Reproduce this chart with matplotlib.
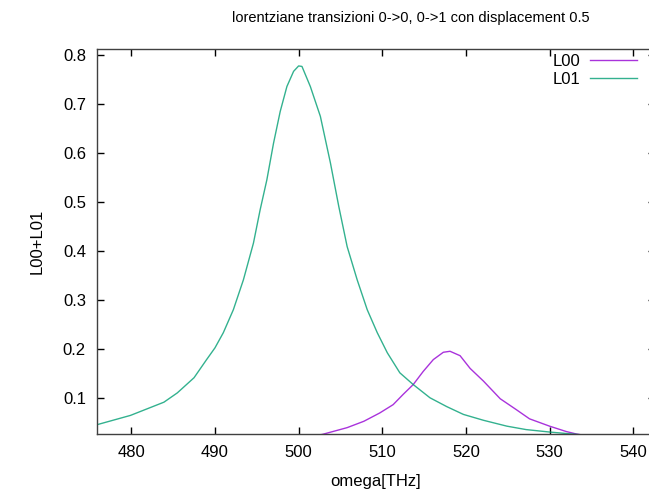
import numpy as np
import matplotlib
matplotlib.use("Agg")
import matplotlib.pyplot as plt

# ---- data ----
omega_l01 = [475.9, 479.9, 483.9, 485.5, 487.5, 489.0, 490.0, 491.0, 492.2,
             493.4, 494.6, 495.4, 496.2, 497.0, 497.8, 498.6, 499.4, 500.0,
             500.4, 501.4, 502.6, 503.8, 504.8, 505.8, 507.0, 508.2, 509.4,
             510.6, 512.1, 513.7, 515.7, 517.7, 519.7, 522.1, 524.9, 527.2,
             530.0, 532.0, 534.0, 536.0, 540.0, 542.6]
l01 = [0.045, 0.064, 0.091, 0.110, 0.141, 0.178, 0.202, 0.233, 0.280,
       0.341, 0.416, 0.484, 0.545, 0.620, 0.685, 0.736, 0.767, 0.778,
       0.777, 0.736, 0.675, 0.580, 0.491, 0.409, 0.341, 0.280, 0.233,
       0.192, 0.151, 0.127, 0.100, 0.082, 0.066, 0.054, 0.042, 0.035,
       0.030, 0.027, 0.024, 0.021, 0.017, 0.015]

omega_l00 = [476.0, 485.0, 495.0, 500.0, 502.8, 505.8, 507.8, 509.7, 511.3,
             512.5, 513.7, 514.9, 516.1, 517.3, 518.1, 519.3, 520.5, 522.1,
             524.1, 526.0, 527.6, 530.0, 532.0, 533.2, 536.0, 540.0, 542.6]
l00 = [0.004, 0.006, 0.012, 0.018, 0.025, 0.039, 0.052, 0.069, 0.086,
       0.107, 0.127, 0.154, 0.178, 0.193, 0.195, 0.186, 0.160, 0.134,
       0.098, 0.076, 0.057, 0.042, 0.031, 0.026, 0.018, 0.012, 0.010]

xticks = [480, 490, 500, 510, 520, 530, 540]
yticks = [0.1, 0.2, 0.3, 0.4, 0.5, 0.6, 0.7, 0.8]

plt.rcParams['font.family'] = ['Liberation Sans', 'DejaVu Sans']

W, H = 649, 495
fig = plt.figure(figsize=(W / 100, H / 100), dpi=100)
# plot box: left 97px, bottom 434px, top 49px, right beyond the crop (~655px)
ax = fig.add_axes([97 / W, (H - 434) / H, (655 - 97) / W, (434 - 49.3) / H])

ax.plot(omega_l00, l00, color='#9400d3', lw=1.0, alpha=0.8, label='L00')
ax.plot(omega_l01, l01, color='#009e73', lw=1.0, alpha=0.8, label='L01')

ax.set_xlim(475.9, 542.6)
ax.set_ylim(0.026, 0.812)
ax.set_xticks(xticks)
ax.set_yticks(yticks)
ax.set_yticklabels([f"{v:.1f}" for v in yticks])
ax.tick_params(direction='in', length=5, width=1, labelsize=12,
               top=True, right=True, pad=8, colors='black')
ax.tick_params(axis='x', pad=8)
for s in ax.spines.values():
    s.set_color('#404040')
    s.set_linewidth(1.0)

ax.set_xlabel('omega[THz]', fontsize=12, labelpad=10)
ax.set_ylabel('L00+L01', fontsize=12, labelpad=13)
fig.text(411 / W, 1 - 18 / H, 'lorentziane transizioni 0->0, 0->1 con displacement 0.5',
         ha='center', va='center', fontsize=10.5)

ax.legend(loc='upper right', bbox_to_anchor=(637 / W, 1 - 54 / H),
          bbox_transform=fig.transFigure, frameon=False, markerfirst=False,
          fontsize=12, handlelength=2.8, handletextpad=0.6, borderpad=0,
          borderaxespad=0, labelspacing=0.2)

fig.savefig('out.png', dpi=100)
